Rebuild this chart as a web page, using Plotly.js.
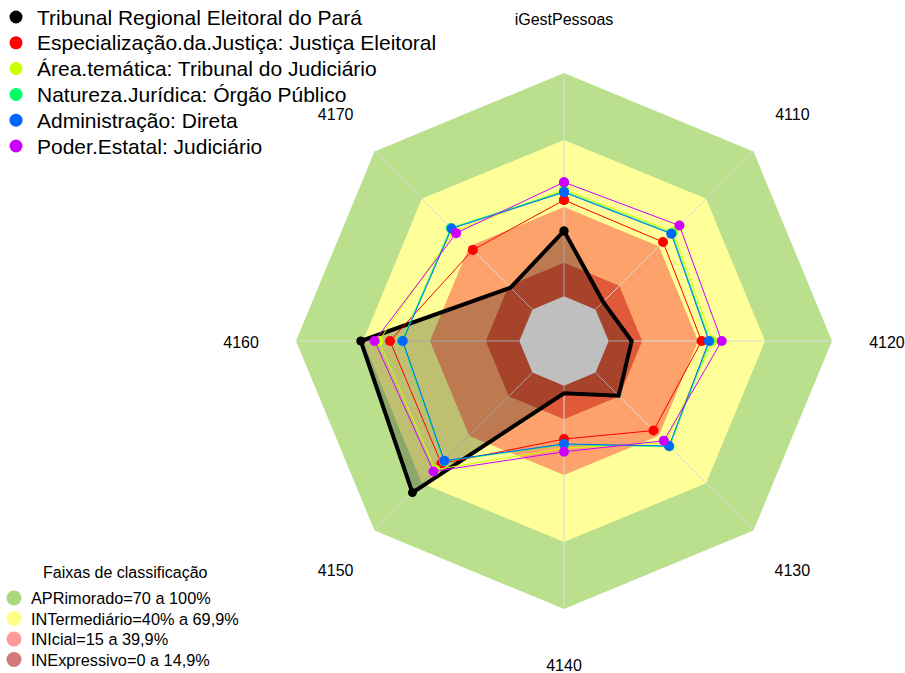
<!DOCTYPE html>
<html>
<head>
<meta charset="utf-8">
<script src="https://cdn.plot.ly/plotly-3.0.1.min.js"></script>
<style>html,body{margin:0;padding:0;background:#fff;}#chart{width:905px;height:673px;}</style>
</head>
<body>
<div id="chart"></div>
<script>
// ---- data ----
var categories = ['iGestPessoas', '4110', '4120', '4130', '4140', '4150', '4160', '4170'];

var seriesNames = [
  'Tribunal Regional Eleitoral do Pará',
  'Especialização.da.Justiça: Justiça Eleitoral',
  'Área.temática: Tribunal do Judiciário',
  'Natureza.Jurídica: Órgão Público',
  'Administração: Direta',
  'Poder.Estatal: Judiciário'
];
var treParaValues      = [29.3, 4.8, 10.3, 14.6, 3.4, 76.0, 71.0, 13.8];
var justicaEleitoral   = [43.1, 42.7, 41.6, 36.7, 23.9, 57.7, 57.9, 37.7];
var tribunalJudiciario = [47.8, 49.2, 46.5, 44.5, 28.0, 61.5, 63.0, 49.5];
var orgaoPublico       = [47.0, 48.3, 45.3, 46.8, 26.4, 56.1, 52.6, 51.6];
var administracaoDireta= [46.6, 47.9, 44.9, 46.5, 26.1, 55.8, 52.2, 51.2];
var poderJudiciario    = [51.1, 53.1, 50.6, 43.2, 29.6, 62.6, 64.8, 48.3];

var bandTitle = 'Faixas de classificação';
var bandLabels = ['APRimorado=70 a 100%', 'INTermediário=40% a 69,9%', 'INIcial=15 a 39,9%', 'INExpressivo=0 a 14,9%'];
var bandUpper = [100, 70, 40, 15, 0];   // outer limit of each band (last = inner empty core)

// ---- styles ----
var seriesColors = ['#000000', '#ff0000', '#ccff00', '#00ff66', '#0066ff', '#cc00ff'];
var bandFill = ['#bae08e', '#ffff99', '#fca26a', '#e05a3a', '#ffffff'];
var bandLegendColors = ['#a9d880', '#ffff88', '#ff9a9a', '#d57878'];
var FONT = 'Liberation Sans, Arial, sans-serif';
var R_MIN = -20, R_MAX = 100, LABEL_R = 124.6;

function closeRing(arr) { return arr.concat([arr[0]]); }
var thetaClosed = closeRing(categories);

var traces = [];
// bands
bandUpper.forEach(function (lvl, i) {
  traces.push({
    type: 'scatterpolar', mode: 'lines',
    r: thetaClosed.map(function () { return lvl; }),
    theta: thetaClosed,
    fill: 'toself', fillcolor: bandFill[i],
    line: {width: 0, color: bandFill[i]},
    hoverinfo: 'skip', showlegend: false
  });
});
// spokes
var spokeR = [], spokeT = [];
categories.forEach(function (c) { spokeR.push(0, R_MAX, null); spokeT.push(c, c, null); });
traces.push({
  type: 'scatterpolar', mode: 'lines', r: spokeR, theta: spokeT,
  line: {color: '#d9d9d9', width: 1}, connectgaps: false,
  hoverinfo: 'skip', showlegend: false
});

var allSeries = [treParaValues, justicaEleitoral, tribunalJudiciario, orgaoPublico, administracaoDireta, poderJudiciario];
allSeries.forEach(function (vals, i) {
  var isMain = i === 0;
  traces.push({
    type: 'scatterpolar', mode: 'lines+markers', name: seriesNames[i],
    r: closeRing(vals), theta: thetaClosed,
    fill: isMain ? 'toself' : 'none',
    fillcolor: 'rgba(0,0,0,0.25)',
    line: {color: seriesColors[i], width: isMain ? 4 : 1},
    marker: {color: seriesColors[i], size: isMain ? 9 : 10},
    showlegend: false
  });
});

// category labels on a twin polar subplot (nudged down to centre the glyphs)
traces.push({
  type: 'scatterpolar', mode: 'text', subplot: 'polar2',
  r: categories.map(function () { return LABEL_R; }),
  theta: categories, text: categories,
  textposition: 'middle center',
  textfont: {family: FONT, size: 16, color: '#000'},
  cliponaxis: false, hoverinfo: 'skip', showlegend: false
});

var W = 905, H = 673;
function px(x) { return x / W; }
function py(y) { return 1 - y / H; }

var shapes = [], annotations = [];
seriesNames.forEach(function (n, i) {
  var y = 17 + i * 25.8;
  shapes.push({type: 'circle', xref: 'paper', yref: 'paper', xsizemode: 'pixel', ysizemode: 'pixel',
    xanchor: px(16), yanchor: py(y), x0: -6.5, x1: 6.5, y0: -6.5, y1: 6.5,
    fillcolor: seriesColors[i], line: {width: 0}});
  annotations.push({xref: 'paper', yref: 'paper', x: px(35), y: py(y), xanchor: 'left', yanchor: 'middle',
    text: n, showarrow: false, font: {family: FONT, size: 21, color: '#000'}});
});
annotations.push({xref: 'paper', yref: 'paper', x: px(125), y: py(572), xanchor: 'center', yanchor: 'middle',
  text: bandTitle, showarrow: false, font: {family: FONT, size: 16, color: '#000'}});
bandLabels.forEach(function (t, i) {
  var y = 598 + i * 20.5;
  shapes.push({type: 'circle', xref: 'paper', yref: 'paper', xsizemode: 'pixel', ysizemode: 'pixel',
    xanchor: px(14), yanchor: py(y), x0: -7.5, x1: 7.5, y0: -7.5, y1: 7.5,
    fillcolor: bandLegendColors[i], line: {width: 0}});
  annotations.push({xref: 'paper', yref: 'paper', x: px(29), y: py(y), xanchor: 'left', yanchor: 'middle',
    text: t, showarrow: false, font: {family: FONT, size: 16.3, color: '#000'}});
});

// polar radius in px so that r = R_MAX lands 268 px from the centre
var CX = 564, CY = 341, R_OUT = 268, LABEL_DY = 3;
var R_FULL = R_OUT * (LABEL_R - R_MIN) / (R_MAX - R_MIN);

function polarCfg(dy) {
  return {
    domain: {x: [(CX - R_FULL) / W, (CX + R_FULL) / W],
             y: [(H - CY - dy - R_FULL) / H, (H - CY - dy + R_FULL) / H]},
    bgcolor: 'rgba(0,0,0,0)',
    gridshape: 'linear',
    radialaxis: {range: [R_MIN, LABEL_R], visible: false, showgrid: false},
    angularaxis: {type: 'category', categoryarray: categories, rotation: 90, direction: 'clockwise',
      showgrid: false, showline: false, showticklabels: false, ticks: ''}
  };
}

var layout = {
  width: W, height: H,
  margin: {l: 0, r: 0, t: 0, b: 0},
  paper_bgcolor: '#ffffff',
  showlegend: false,
  font: {family: FONT},
  polar: polarCfg(0),
  polar2: polarCfg(LABEL_DY),
  shapes: shapes,
  annotations: annotations
};

Plotly.newPlot('chart', traces, layout, {displayModeBar: false, staticPlot: true});
</script>
</body>
</html>
